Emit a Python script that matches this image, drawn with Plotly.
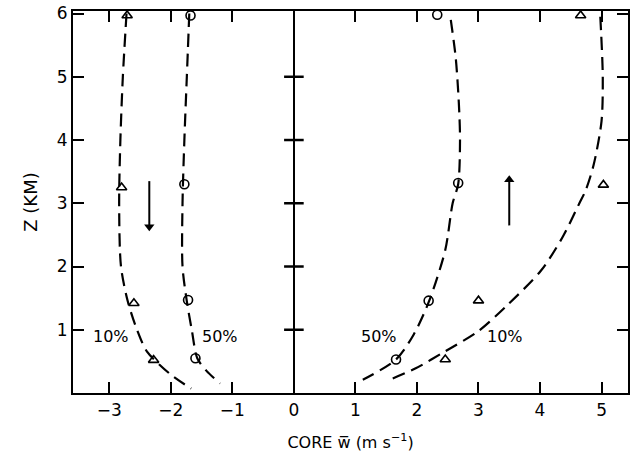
import plotly.graph_objects as go

# ---- data ----
z_ticks = [1, 2, 3, 4, 5, 6]
x_ticks = [-3, -2, -1, 0, 1, 2, 3, 4, 5]

# downdraft cores (left), updraft cores (right)
dn10_curve_x = [-2.72, -2.78, -2.82, -2.84, -2.81, -2.70, -2.55, -2.39, -2.00, -1.67]
dn10_curve_z = [6.00, 5.00, 4.00, 3.00, 2.00, 1.45, 1.00, 0.66, 0.29, 0.07]
dn10_pts_x = [-2.71, -2.80, -2.60, -2.28]
dn10_pts_z = [5.97, 3.25, 1.42, 0.52]

dn50_curve_x = [-1.70, -1.74, -1.78, -1.81, -1.81, -1.74, -1.66, -1.57, -1.42, -1.20]
dn50_curve_z = [6.00, 5.00, 4.00, 3.00, 2.00, 1.45, 1.00, 0.55, 0.35, 0.15]
dn50_pts_x = [-1.68, -1.78, -1.72, -1.60]
dn50_pts_z = [5.97, 3.30, 1.47, 0.55]

up50_curve_x = [2.55, 2.63, 2.68, 2.70, 2.67, 2.58, 2.46, 2.20, 1.95, 1.66, 1.12]
up50_curve_z = [5.90, 5.30, 4.60, 4.00, 3.30, 3.00, 2.26, 1.46, 0.93, 0.53, 0.21]
up50_pts_x = [2.33, 2.67, 2.19, 1.66]
up50_pts_z = [5.98, 3.32, 1.46, 0.53]

up10_curve_x = [4.98, 5.02, 5.00, 4.87, 4.74, 4.64, 4.37, 4.02, 3.48, 3.00, 2.46, 1.98, 1.58]
up10_curve_z = [5.95, 5.00, 4.30, 3.60, 3.20, 3.00, 2.47, 1.94, 1.40, 0.98, 0.66, 0.39, 0.22]
up10_pts_x = [4.66, 5.03, 3.00, 2.46]
up10_pts_z = [5.97, 3.29, 1.46, 0.53]

pct_labels = ["10%", "50%", "50%", "10%"]
pct_x = [-2.97, -1.20, 1.39, 3.43]
pct_z = [0.9, 0.9, 0.9, 0.9]

arrow_x = [-2.35, 3.5]
arrow_from_z = [3.35, 2.65]
arrow_to_z = [2.63, 3.37]

x_range = [-3.59, 5.43]
z_range = [0, 6.04]

FONT = "DejaVu Sans"
BLK = "black"

fig = go.Figure()

dash = "13px,7px"
for cx, cz in [(dn10_curve_x, dn10_curve_z), (dn50_curve_x, dn50_curve_z),
               (up50_curve_x, up50_curve_z), (up10_curve_x, up10_curve_z)]:
    fig.add_trace(go.Scatter(x=cx, y=cz, mode="lines",
                             line=dict(color=BLK, width=2.2, dash=dash, shape="spline", smoothing=0.8),
                             hoverinfo="skip", showlegend=False))

for px, pz, sym in [(dn10_pts_x, dn10_pts_z, "triangle-up-open"),
                    (dn50_pts_x, dn50_pts_z, "circle-open"),
                    (up50_pts_x, up50_pts_z, "circle-open"),
                    (up10_pts_x, up10_pts_z, "triangle-up-open")]:
    fig.add_trace(go.Scatter(x=px, y=pz, mode="markers",
                             marker=dict(symbol=sym, size=9, color=BLK, line=dict(color=BLK, width=1.6)),
                             showlegend=False))

# cross ticks on the zero line
fig.add_trace(go.Scatter(x=[0] * (len(z_ticks) - 1), y=z_ticks[:-1], mode="markers",
                         marker=dict(symbol="line-ew", size=14, color=BLK,
                                     line=dict(color=BLK, width=2.5)),
                         showlegend=False, hoverinfo="skip"))

for t, x, z in zip(pct_labels, pct_x, pct_z):
    fig.add_annotation(x=x, y=z, text=t, showarrow=False,
                       font=dict(family=FONT, size=16, color=BLK))

# direction arrows
for x, z0, z1 in zip(arrow_x, arrow_from_z, arrow_to_z):
    head = "triangle-down" if z1 < z0 else "triangle-up"
    fig.add_trace(go.Scatter(x=[x, x], y=[z0, z1], mode="lines",
                             line=dict(color=BLK, width=2),
                             showlegend=False, hoverinfo="skip"))
    fig.add_trace(go.Scatter(x=[x], y=[z1], mode="markers",
                             marker=dict(symbol=head, size=9, color=BLK, line=dict(width=0)),
                             showlegend=False, hoverinfo="skip"))

fig.update_layout(
    width=630, height=468,
    margin=dict(l=73, r=0, t=11, b=75),
    paper_bgcolor="white", plot_bgcolor="white",
    font=dict(family=FONT, color=BLK),
    xaxis=dict(range=x_range, tickvals=x_ticks, ticktext=["\u2212" + str(-v) if v < 0 else str(v) for v in x_ticks],
               ticks="inside", ticklen=11, tickwidth=1.5, tickcolor=BLK,
               showline=True, linewidth=2.2, linecolor=BLK, mirror="ticks",
               showgrid=False, zeroline=True, zerolinewidth=2.2, zerolinecolor=BLK,
               tickfont=dict(size=17),
               title=dict(text="CORE w\u0305 (m s<sup>\u22121</sup>)", font=dict(size=16), standoff=18)),
    yaxis=dict(range=z_range, tickvals=z_ticks,
               ticks="inside", ticklen=11, tickwidth=1.5, tickcolor=BLK,
               showline=True, linewidth=2.2, linecolor=BLK, mirror="ticks",
               showgrid=False, zeroline=False,
               tickfont=dict(size=17),
               title=dict(text="Z (KM)", font=dict(size=18), standoff=14)),
)

fig.write_html("out.html")
